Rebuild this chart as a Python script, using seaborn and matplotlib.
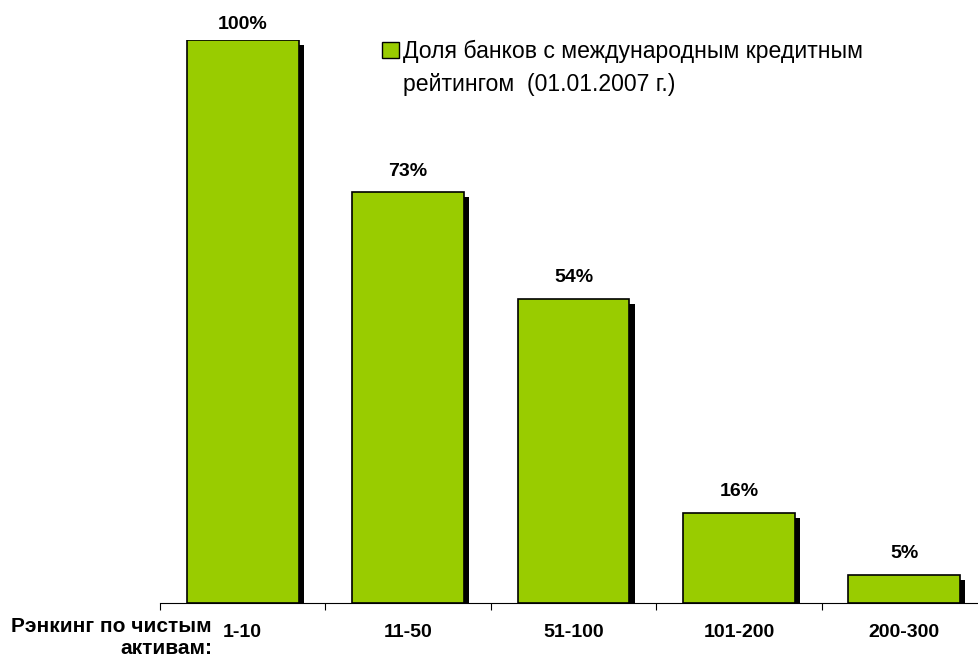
import matplotlib
matplotlib.use("Agg")
import matplotlib.pyplot as plt
import matplotlib.patheffects as pe
from matplotlib.patches import Patch
import seaborn as sns
import pandas as pd
import numpy as np

categories = ["1-10", "11-50", "51-100", "101-200", "200-300"]
values = [1.00, 0.73, 0.54, 0.16, 0.05]
value_labels = ["100%", "73%", "54%", "16%", "5%"]
legend_line1 = "Доля банков с международным кредитным"
legend_line2 = "рейтингом  (01.01.2007 г.)"
xlabel = "Рэнкинг по чистым\nактивам:"

sns.set_theme(style="white")
plt.rcParams["font.family"] = ["Liberation Sans", "DejaVu Sans"]
plt.rcParams["text.color"] = "black"

df = pd.DataFrame({"cat": categories, "val": values})
green = "#99CC00"

fig = plt.figure(figsize=(9.79, 6.61), dpi=100)
ax = fig.add_axes([160/979, 58/661, 827/979, 563/661])
sns.barplot(data=df, x="cat", y="val", color=green, width=0.675, saturation=1,
            edgecolor="black", linewidth=1.2, ax=ax)
for p in ax.patches:
    p.set_path_effects([pe.SimplePatchShadow(offset=(3.8, -3.8), shadow_rgbFace="black", alpha=1.0), pe.Normal()])

ax.set_ylim(0, 1.0)
ax.set_xlim(-0.5, len(categories) - 0.5)
ax.set_yticks([])
ax.set_ylabel("")
ax.set_xlabel("")
for s in ["left", "right", "top"]:
    ax.spines[s].set_visible(False)
ax.spines["bottom"].set_color("black")
ax.spines["bottom"].set_linewidth(0.8)
ax.set_xticks(range(len(categories)))
ax.set_xticklabels(categories, fontsize=14, fontweight="bold", color="black")
ax.tick_params(axis="x", which="major", length=0, pad=15)
ax.set_xticks(np.arange(-0.5, len(categories), 1.0), minor=True)
ax.tick_params(axis="x", which="minor", length=5, width=0.8, color="black", direction="out", bottom=True)

vmax = max(values)
for i, (v, lab) in enumerate(zip(values, value_labels)):
    off = 5 if v >= vmax else 9
    ax.annotate(lab, (i, v), xytext=(0, off), textcoords="offset points",
                ha="center", va="bottom", fontsize=14, fontweight="bold", color="black", clip_on=False)

fig.text(212/979, 1 - 637/661, xlabel, ha="right", va="center", multialignment="right",
         fontsize=15, fontweight="bold", color="black", linespacing=1.2)

handle = Patch(facecolor=green, edgecolor="black", linewidth=1.0)
leg = fig.legend([handle], [legend_line1], loc="upper left", bbox_to_anchor=(382/979, 1 - 40/661),
                 frameon=False, fontsize=16.6, handlelength=0.72, handleheight=0.72,
                 handletextpad=0.2, borderaxespad=0, borderpad=0, labelspacing=0)
for t in leg.get_texts():
    t.set_color("black")

fig.canvas.draw()
bb = leg.get_texts()[0].get_window_extent()
W, H = fig.bbox.width, fig.bbox.height
fig.text(bb.x0 / W, (bb.y0 - 33) / H, legend_line2, ha="left", va="bottom",
         fontsize=16.6, color="black")

fig.savefig("out.png", dpi=100)
